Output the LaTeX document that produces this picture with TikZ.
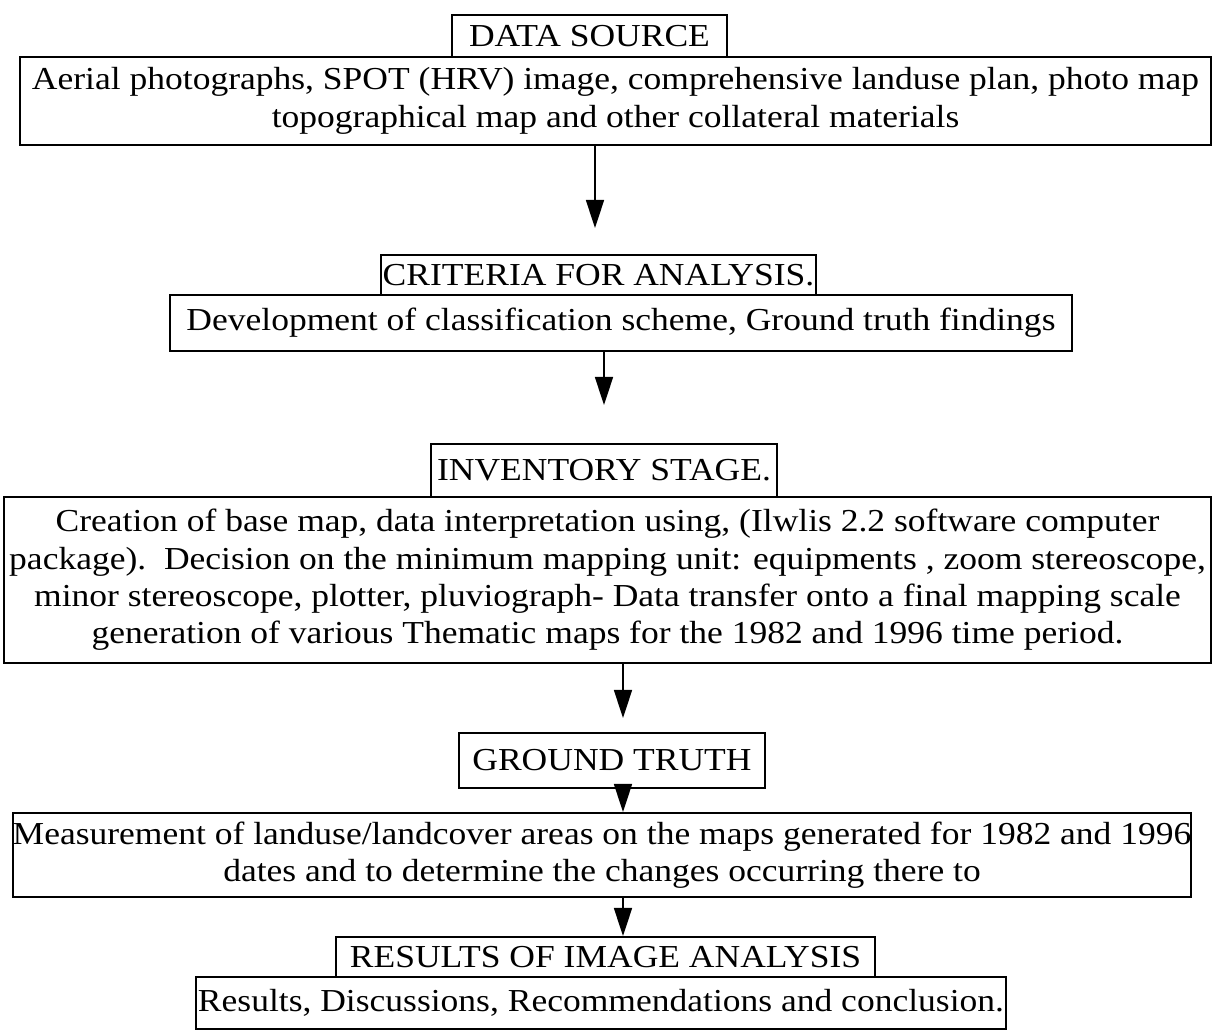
\documentclass[tikz,border=0pt]{standalone}
\usepackage{fontspec}
\setmainfont[FakeStretch=1.11]{Liberation Serif}
\usetikzlibrary{arrows.meta}
\tikzset{
  box/.style={draw=black, line width=1pt, inner sep=0pt, align=center, rectangle,
    font=\fontsize{16}{18.7}\selectfont},
  arr/.style={draw=black, line width=0.8pt, -{Triangle[length=14pt,width=9pt]}}
}
\begin{document}
\begin{tikzpicture}[x=0.5pt,y=-0.5pt]
\useasboundingbox[fill=white] (0,0) rectangle (1212,1031);
% boxes
\node[box, minimum width=1191*0.5pt, minimum height=88*0.5pt] (b1) at (615.5,101)
  {Aerial photographs, SPOT (HRV) image, comprehensive landuse plan, photo map\\
   topographical map and other collateral materials};
\node[box, minimum width=275*0.5pt, minimum height=42*0.5pt] (ds) at (589.5,36) {DATA SOURCE};
\node[box, minimum width=902*0.5pt, minimum height=56*0.5pt] (dev) at (621,323)
  {Development of classification scheme, Ground truth findings};
\node[box, minimum width=435*0.5pt, minimum height=40*0.5pt] (crit) at (598.5,275) {CRITERIA FOR ANALYSIS.};
\node[box, minimum width=1207*0.5pt, minimum height=166*0.5pt] (inv3) at (607.5,580)
  {Creation of base map, data interpretation using, (Ilwlis 2.2 software computer\\
   package).\ \ Decision on the minimum mapping unit: equipments , zoom stereoscope,\\
   minor stereoscope, plotter, pluviograph- Data transfer onto a final mapping scale\\
   generation of various Thematic maps for the 1982 and 1996 time period.};
\node[box, minimum width=346*0.5pt, minimum height=53*0.5pt] (inv) at (604,470.5) {INVENTORY STAGE.};
\node[box, minimum width=306*0.5pt, minimum height=55*0.5pt] (gt) at (612,760.5) {GROUND TRUTH};
\node[box, minimum width=1176*0.5pt, minimum height=84*0.5pt] (meas) at (602,855)
  {Measurement of landuse/landcover areas on the maps generated for 1982 and 1996\\
   dates and to determine the changes occurring there to};
\node[box, minimum width=810*0.5pt, minimum height=52*0.5pt] (fin) at (601,1003)
  {Results, Discussions, Recommendations and conclusion.};
\node[box, minimum width=539*0.5pt, minimum height=40*0.5pt] (res) at (605.5,957) {RESULTS OF IMAGE ANALYSIS};
% arrows
\coordinate (e1) at (595,228);
\coordinate (e2) at (604,405);
\coordinate (e3) at (623,718);
\coordinate (x4) at (623,0);
\draw[arr] (b1.south -| e1) -- (e1);
\draw[arr] (dev.south -| e2) -- (e2);
\draw[arr] (inv3.south -| e3) -- (e3);
\draw[arr] (gt.south -| x4) -- (meas.north -| x4);
\draw[arr] (meas.south -| x4) -- (res.north -| x4);
\end{tikzpicture}
\end{document}
